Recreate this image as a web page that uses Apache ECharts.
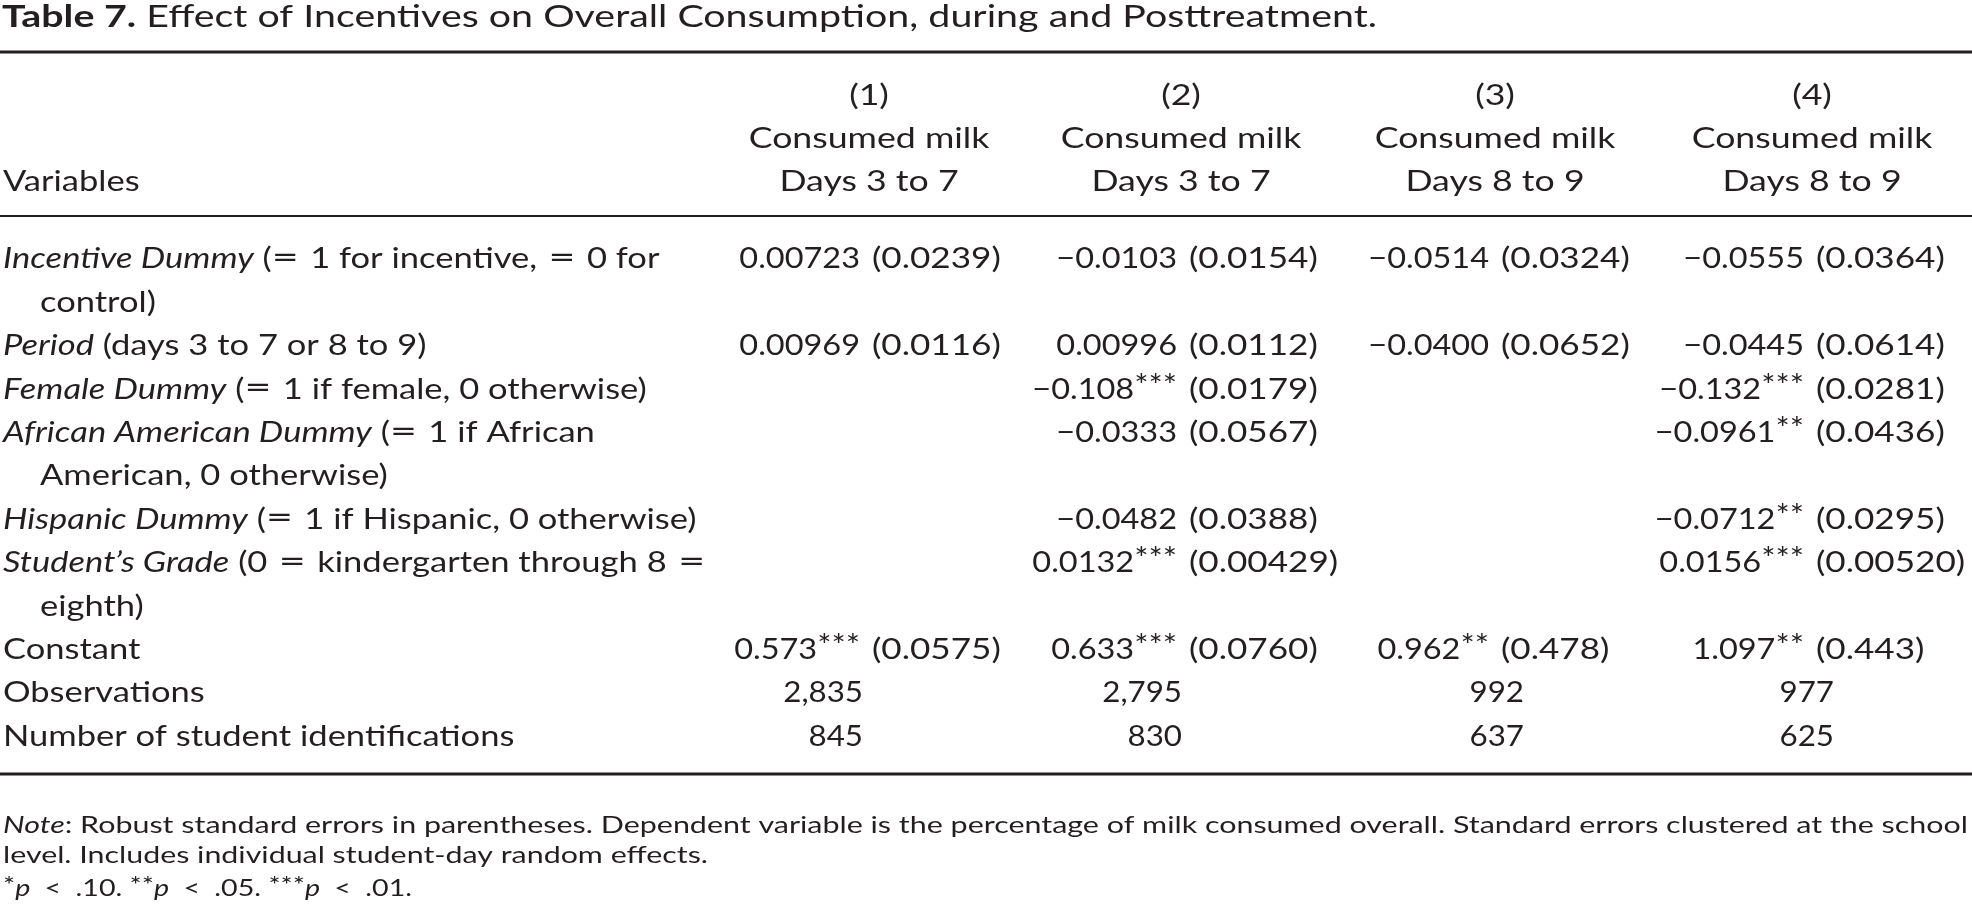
<!DOCTYPE html>
<html>
<head>
<meta charset="utf-8">
<script src="https://cdn.jsdelivr.net/npm/echarts@6/dist/echarts.min.js"></script>
<style>
html,body{margin:0;padding:0;background:#fff;}
#main{width:1972px;height:910px;}
</style>
</head>
<body>
<div id="main"></div>
<script>
//--- table text
var titleLead   = 'Table 7.';
var titleText   = 'Effect of Incentives on Overall Consumption, during and Posttreatment.';
var stubHead    = 'Variables';
var colNumbers  = ['(1)', '(2)', '(3)', '(4)'];
var colOutcome  = ['Consumed milk', 'Consumed milk', 'Consumed milk', 'Consumed milk'];
var colWindow   = ['Days 3 to 7', 'Days 3 to 7', 'Days 8 to 9', 'Days 8 to 9'];

// variable rows: italic name, plain remainder, wrapped second line
var varName   = ['Incentive Dummy', 'Period', 'Female Dummy', 'African American Dummy', 'Hispanic Dummy', 'Student\u2019s Grade', 'Constant'];
var varItalic = [true, true, true, true, true, true, false];
var varRest   = [' (= 1 for incentive, = 0 for', ' (days 3 to 7 or 8 to 9)', ' (= 1 if female, 0 otherwise)', ' (= 1 if African', ' (= 1 if Hispanic, 0 otherwise)', ' (0 = kindergarten through 8 =', ''];
var varWrap   = ['control)', '', '', 'American, 0 otherwise)', '', 'eighth)', ''];

// coefficients, stars, standard errors per model
var coef1 = ['0.00723', '0.00969', '', '', '', '', '0.573'];
var star1 = ['', '', '', '', '', '', '***'];
var se1   = ['0.0239', '0.0116', '', '', '', '', '0.0575'];
var coef2 = ['-0.0103', '0.00996', '-0.108', '-0.0333', '-0.0482', '0.0132', '0.633'];
var star2 = ['', '', '***', '', '', '***', '***'];
var se2   = ['0.0154', '0.0112', '0.0179', '0.0567', '0.0388', '0.00429', '0.0760'];
var coef3 = ['-0.0514', '-0.0400', '', '', '', '', '0.962'];
var star3 = ['', '', '', '', '', '', '**'];
var se3   = ['0.0324', '0.0652', '', '', '', '', '0.478'];
var coef4 = ['-0.0555', '-0.0445', '-0.132', '-0.0961', '-0.0712', '0.0156', '1.097'];
var star4 = ['', '', '***', '**', '**', '***', '**'];
var se4   = ['0.0364', '0.0614', '0.0281', '0.0436', '0.0295', '0.00520', '0.443'];

var countLabels  = ['Observations', 'Number of student identifications'];
var observations = [2835, 2795, 992, 977];
var studentIds   = [845, 830, 637, 625];

var noteText = [
	'Robust standard errors in parentheses. Dependent variable is the percentage of milk consumed overall. Standard errors clustered at the school',
	'level. Includes individual student-day random effects.'
];
var sigStars  = ['*', '**', '***'];
var sigLevels = ['.10', '.05', '.01'];

//--- layout (pixels)
var W = 1972, H = 910;
var FONT = 'Lato', EQ_FONT = 'DejaVu Sans';
var FS = 29, TITLE_FS = 31, NOTE_FS = 24, STAR_FS = 30, NOTE_STAR_FS = 24, EQ_FS = 27;
var TEXT_SX = 1.19, HEAD_SX = 1.23, TITLE_SX = 1.27;
var COEF_SX = 1.12, SE_SX = 1.21, COUNT_SX = 1.08;
var INK = '#231f20';
var titleY   = 17;
var headY    = [96, 139, 182];
var bodyY0   = 259, LINE = 43.4;
var rules    = [[52, 2.8], [216, 2.2], [774, 3]];
var noteY    = [825, 855, 888];
var noteW    = [1965, 705, 409];   // typeset widths of the three note lines
var stubX = 3, wrapX = 40;
var headX  = [869, 1181, 1495, 1812];
var seX    = [872, 1189, 1501, 1816];
var GAP    = 12;
var countR = [863, 1182, 1524, 1834];

//--- helpers
var SP = '\u2004';
function fmtNum(s){ return s.replace('-', '\u2212'); }
// plain text with a wider math "=" token
function fmtText(s){
	return s.split('=').map(function(part, idx, all){
		var p = part;
		if(idx > 0) p = p.replace(/^ /, SP);
		if(idx < all.length - 1) p = p.replace(/ $/, SP);
		return p ? '{n|' + p + '}' : '';
	}).join('{e|=}');
}

var ctx = document.createElement('canvas').getContext('2d');
function measure(s, size, italic){
	ctx.font = (italic ? 'italic ' : '') + size + 'px ' + FONT;
	return ctx.measureText(s).width;
}

var cells = [];
function addCell(x, y, text, align, sx, size){
	cells.push({x: x, y: y, text: text, align: align || 'center', sx: sx || TEXT_SX, size: size || FS});
}

// title
addCell(stubX - 1, titleY, '{b|' + titleLead + '}{t| ' + titleText + '}', 'left', TITLE_SX, TITLE_FS);
// header
for(var i = 0; i < 4; i++){
	addCell(headX[i], headY[0], '{n|' + colNumbers[i] + '}', 'center', HEAD_SX);
	addCell(headX[i], headY[1], '{n|' + colOutcome[i] + '}', 'center', HEAD_SX);
	addCell(headX[i], headY[2], '{n|' + colWindow[i] + '}', 'center', HEAD_SX);
}
addCell(stubX, headY[2], '{n|' + stubHead + '}', 'left');

// body
var coefs = [coef1, coef2, coef3, coef4];
var stars = [star1, star2, star3, star4];
var ses   = [se1, se2, se3, se4];
var line = 0;
for(var r = 0; r < varName.length; r++){
	var y = bodyY0 + line * LINE;
	var lbl = (varItalic[r] ? '{i|' + varName[r] + '}' : '{n|' + varName[r] + '}') + (varRest[r] ? fmtText(varRest[r]) : '');
	addCell(stubX, y, lbl, 'left');
	for(var c = 0; c < 4; c++){
		if(!coefs[c][r]) continue;
		addCell(seX[c] - GAP, y, '{n|' + fmtNum(coefs[c][r]) + '}' + (stars[c][r] ? '{s|' + stars[c][r] + '}' : ''), 'right', COEF_SX);
		addCell(seX[c], y, '{n|(' + ses[c][r] + ')}', 'left', SE_SX);
	}
	line++;
	if(varWrap[r]){
		addCell(wrapX, bodyY0 + line * LINE, '{n|' + varWrap[r] + '}', 'left');
		line++;
	}
}
var countRows = [observations, studentIds];
for(var k = 0; k < countRows.length; k++){
	var yy = bodyY0 + line * LINE;
	addCell(stubX, yy, '{n|' + countLabels[k] + '}', 'left');
	for(var c2 = 0; c2 < 4; c2++){
		addCell(countR[c2], yy, '{n|' + countRows[k][c2].toLocaleString('en-US') + '}', 'right', COUNT_SX);
	}
	line++;
}

// notes: each line squeezed or stretched to its typeset width
var w0 = measure('Note', NOTE_FS, true) + measure(': ' + noteText[0], NOTE_FS);
addCell(stubX, noteY[0], '{ni|Note}{nn|: ' + noteText[0] + '}', 'left', noteW[0] / w0, NOTE_FS);
var w1 = measure(noteText[1], NOTE_FS);
addCell(stubX, noteY[1], '{nn|' + noteText[1] + '}', 'left', noteW[1] / w1, NOTE_FS);
var sig = '', w2 = 0;
for(var q = 0; q < sigStars.length; q++){
	var tail = '\u2002<\u2002' + sigLevels[q] + '.' + (q < sigStars.length - 1 ? ' ' : '');
	sig += '{ns|' + sigStars[q] + '}{ni|p}{nn|' + tail + '}';
	w2 += measure(sigStars[q], NOTE_STAR_FS) + measure('p', NOTE_FS, true) + measure(tail, NOTE_FS);
}
addCell(stubX, noteY[2], sig, 'left', noteW[2] / w2, NOTE_FS);

var rich = {
	n:  {fontFamily: FONT, fontSize: FS, fill: INK, lineHeight: 36},
	e:  {fontFamily: EQ_FONT, fontSize: EQ_FS, fill: INK, lineHeight: 36},
	t:  {fontFamily: FONT, fontSize: TITLE_FS, fill: INK, lineHeight: 38},
	b:  {fontFamily: FONT, fontSize: TITLE_FS, fill: INK, fontWeight: 'bold', lineHeight: 38},
	i:  {fontFamily: FONT, fontSize: FS, fill: INK, fontStyle: 'italic', lineHeight: 36},
	s:  {fontFamily: FONT, fontSize: STAR_FS, fill: INK, verticalAlign: 'top', lineHeight: 30},
	nn: {fontFamily: FONT, fontSize: NOTE_FS, fill: INK, lineHeight: 30},
	ni: {fontFamily: FONT, fontSize: NOTE_FS, fill: INK, fontStyle: 'italic', lineHeight: 30},
	ns: {fontFamily: FONT, fontSize: NOTE_STAR_FS, fill: INK, verticalAlign: 'top', lineHeight: 24}
};

var myChart = echarts.init(document.getElementById('main'), null, {renderer: 'canvas'});

var option = {
	animation: false,
	backgroundColor: '#fff',
	grid: {left: 0, right: 0, top: 0, bottom: 0},
	xAxis: {type: 'value', min: 0, max: W, show: false},
	yAxis: {type: 'value', min: 0, max: H, inverse: true, show: false},
	series: [{
		type: 'custom',
		silent: true,
		clip: false,
		data: rules.map(function(r){ return [0, r[0], W, r[1]]; }),
		renderItem: function(params, api){
			var p0 = api.coord([api.value(0), api.value(1)]);
			var p1 = api.coord([api.value(2), api.value(1)]);
			return {
				type: 'line',
				shape: {x1: p0[0], y1: p0[1], x2: p1[0], y2: p1[1]},
				style: {stroke: INK, lineWidth: api.value(3)}
			};
		}
	}, {
		type: 'custom',
		silent: true,
		clip: false,
		data: cells.map(function(c){ return [c.x, c.y]; }),
		renderItem: function(params, api){
			var cell = cells[params.dataIndex];
			var p = api.coord([api.value(0), api.value(1)]);
			return {
				type: 'text',
				x: p[0],
				y: p[1],
				scaleX: cell.sx,
				style: {
					text: cell.text,
					rich: rich,
					fontFamily: FONT,
					fontSize: cell.size,
					fill: INK,
					align: cell.align,
					verticalAlign: 'middle'
				}
			};
		}
	}]
};

myChart.setOption(option);
</script>
</body>
</html>
